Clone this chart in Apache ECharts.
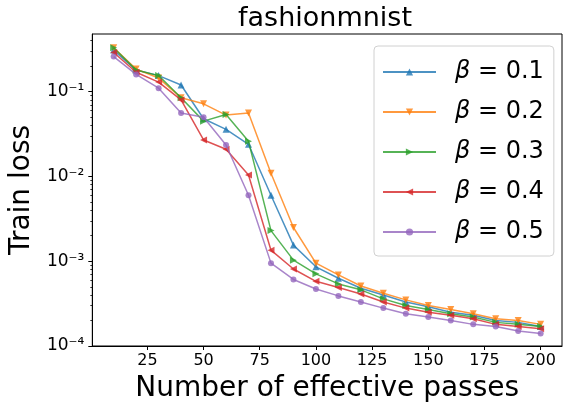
<!DOCTYPE html>
<html>
<head>
<meta charset="utf-8">
<script src="https://cdn.jsdelivr.net/npm/echarts@6/dist/echarts.min.js"></script>
<style>
  html, body { margin: 0; padding: 0; background: #fff; }
  #chart { width: 570px; height: 411px; }
</style>
</head>
<body>
<div id="chart"></div>
<script>
// values
const passes = [10, 20, 30, 40, 50, 60, 70, 80, 90, 100, 110, 120, 130, 140, 150, 160, 170, 180, 190, 200];
const betaLabels = ["0.1", "0.2", "0.3", "0.4", "0.5"];
const lossB1 = [0.31, 0.18, 0.155, 0.12, 0.048, 0.036, 0.024, 0.006, 0.00155, 0.00086, 0.00063, 0.00048, 0.0004, 0.00033, 0.00029, 0.00025, 0.00023, 0.0002, 0.00019, 0.00017];
const lossB2 = [0.33, 0.185, 0.145, 0.085, 0.072, 0.053, 0.056, 0.0109, 0.0025, 0.00095, 0.00069, 0.00051, 0.00042, 0.00035, 0.0003, 0.00027, 0.00024, 0.00021, 0.0002, 0.00018];
const lossB3 = [0.33, 0.18, 0.155, 0.085, 0.045, 0.054, 0.026, 0.0023, 0.00103, 0.00071, 0.00054, 0.00046, 0.00036, 0.0003, 0.00027, 0.00024, 0.00022, 0.00019, 0.00018, 0.00017];
const lossB4 = [0.29, 0.17, 0.13, 0.08, 0.027, 0.021, 0.0104, 0.00135, 0.00081, 0.00058, 0.00049, 0.00041, 0.00033, 0.00028, 0.00025, 0.00023, 0.00021, 0.00018, 0.00017, 0.00016];
const lossB5 = [0.26, 0.16, 0.11, 0.056, 0.05, 0.0235, 0.006, 0.00095, 0.00061, 0.00047, 0.00039, 0.00033, 0.00028, 0.00024, 0.00022, 0.0002, 0.00018, 0.00017, 0.00015, 0.00014];
const xTicks = [25, 50, 75, 100, 125, 150, 175, 200];
const yTicks = [1e-4, 1e-3, 1e-2, 1e-1];
const yTickLabels = ["10\u207B\u2074", "10\u207B\u00B3", "10\u207B\u00B2", "10\u207B\u00B9"];

const allLoss = [lossB1, lossB2, lossB3, lossB4, lossB5];
const colors = ["#1f77b4", "#ff7f0e", "#2ca02c", "#d62728", "#9467bd"];
const symbols = ["triangle", "triangle", "triangle", "triangle", "circle"];
const rotations = [0, 180, -90, 90, 0];

// minor log ticks 2..9 x 10^k
const minorTicks = [];
for (let k = -4; k <= -1; k++) {
  for (let m = 2; m <= 9; m++) {
    const v = m * Math.pow(10, k);
    if (v < 0.48) minorTicks.push(v);
  }
}

const series = allLoss.map((loss, i) => {
  return {
    name: "{i|\u03B2} = " + betaLabels[i],
    type: "line",
    data: passes.map((p, j) => [p, loss[j]]),
    symbol: symbols[i],
    symbolRotate: rotations[i],
    symbolSize: i === 4 ? 6 : 7,
    showSymbol: true,
    lineStyle: { color: colors[i], width: 1.5, opacity: 0.8 },
    itemStyle: { color: colors[i], opacity: 0.8 },
    emphasis: { disabled: true },
    z: 2 + i,
  };
});

const chart = echarts.init(document.getElementById("chart"));
const font = "DejaVu Sans";

const option = {
  animation: false,
  title: {
    text: "fashionmnist",
    left: 325,
    textAlign: "center",
    top: 5,
    padding: 0,
    textStyle: { fontFamily: font, fontSize: 27, fontWeight: "normal", color: "#000" },
  },
  grid: { left: 89, right: 8, top: 34, bottom: 65, show: true, borderColor: "#000", borderWidth: 1 },
  legend: {
    orient: "vertical",
    left: 374,
    top: 46,
    padding: [12, 10, 10, 8],
    itemWidth: 53,
    itemHeight: 9,
    itemGap: 12,
    backgroundColor: "rgba(255,255,255,0.8)",
    borderColor: "#d0d0d0",
    borderWidth: 1,
    borderRadius: 4,
    textStyle: {
      fontFamily: font,
      fontSize: 24,
      color: "#000",
      lineHeight: 28,
      padding: [0, 0, 0, 14],
      rich: { i: { fontFamily: font, fontStyle: "italic", fontSize: 24 } },
    },
  },
  xAxis: {
    type: "value",
    min: 0.5,
    max: 209.5,
    name: "Number of effective passes",
    nameLocation: "middle",
    nameGap: 29,
    nameTextStyle: { fontFamily: font, fontSize: 28, color: "#000" },
    axisLine: { show: true, lineStyle: { color: "#000", width: 1 } },
    axisTick: { show: true, length: 4, customValues: xTicks, lineStyle: { color: "#000" } },
    axisLabel: { customValues: xTicks, fontFamily: font, fontSize: 16, color: "#000", margin: 7 },
    splitLine: { show: false },
  },
  yAxis: [
    {
      type: "log",
      logBase: 10,
      min: 1e-4,
      max: 0.48,
      name: "Train loss",
      nameLocation: "middle",
      nameGap: 47,
      nameTextStyle: { fontFamily: font, fontSize: 28, color: "#000" },
      axisLine: { show: true, lineStyle: { color: "#000", width: 1 } },
      axisTick: { show: true, length: 4, customValues: yTicks, lineStyle: { color: "#000" } },
      axisLabel: {
        customValues: yTicks,
        fontFamily: font,
        fontSize: 17,
        color: "#000",
        margin: 8,
        formatter: (v) => {
          const idx = yTicks.findIndex((t) => Math.abs(Math.log10(t) - Math.log10(v)) < 1e-6);
          return idx >= 0 ? yTickLabels[idx] : "";
        },
      },
      splitLine: { show: false },
    },
    {
      type: "log",
      logBase: 10,
      min: 1e-4,
      max: 0.48,
      position: "left",
      axisLine: { show: false },
      axisTick: { show: true, length: 2, customValues: minorTicks, lineStyle: { color: "#000", width: 0.8 } },
      axisLabel: { show: false },
      splitLine: { show: false },
    },
  ],
  series: series,
};

chart.setOption(option);
</script>
</body>
</html>
